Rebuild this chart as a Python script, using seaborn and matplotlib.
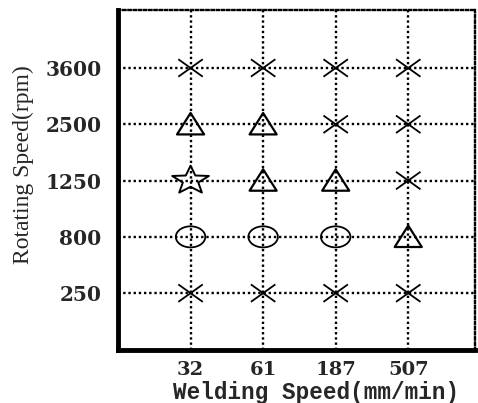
import numpy as np
import pandas as pd
import matplotlib
matplotlib.use("Agg")
import matplotlib.pyplot as plt
from matplotlib.path import Path
import seaborn as sns

# ---- data ----
welding_speeds = ["32", "61", "187", "507"]          # mm/min (x categories)
rotating_speeds = ["250", "800", "1250", "2500", "3600"]  # rpm (y categories)
# outcome code per (rotating speed row, welding speed column)
outcome_250 = ["cross", "cross", "cross", "cross"]
outcome_800 = ["circle", "circle", "circle", "triangle"]
outcome_1250 = ["star", "triangle", "triangle", "cross"]
outcome_2500 = ["triangle", "triangle", "cross", "cross"]
outcome_3600 = ["cross", "cross", "cross", "cross"]
outcomes = [outcome_250, outcome_800, outcome_1250, outcome_2500, outcome_3600]

rows = []
for ri, rs in enumerate(rotating_speeds):
    for wi, ws in enumerate(welding_speeds):
        rows.append({"ws": wi, "rs": ri, "outcome": outcomes[ri][wi]})
df = pd.DataFrame(rows)

# ---- marker shapes ----
t = np.linspace(0, 2 * np.pi, 60)
ellipse = Path(np.column_stack([1.4 * np.cos(t), np.sin(t)]), closed=True)
cross = Path([(-1.4, -1), (1.4, 1), (-1.4, 1), (1.4, -1)],
             [Path.MOVETO, Path.LINETO, Path.MOVETO, Path.LINETO])
tri = Path([(-1.2, -0.9), (1.2, -0.9), (0, 1.0), (-1.2, -0.9)], closed=True)
ang = np.pi / 2 + np.arange(10) * np.pi / 5
rad = np.where(np.arange(10) % 2 == 0, 1.0, 0.42)
star_v = np.column_stack([1.3 * rad * np.cos(ang), rad * np.sin(ang)])
star = Path(np.vstack([star_v, star_v[:1]]), closed=True)

styles = {
    "cross": dict(marker=cross, s=310, facecolor="none", edgecolor="black", linewidth=1.3),
    "circle": dict(marker=ellipse, s=450, facecolor="none", edgecolor="black", linewidth=1.3),
    "triangle": dict(marker=tri, s=380, facecolor="none", edgecolor="black", linewidth=1.6),
    "star": dict(marker=star, s=700, facecolor="none", edgecolor="black", linewidth=1.4),
}

sns.set_style("white")
fig = plt.figure(figsize=(4.78, 4.03), dpi=100)
ax = fig.add_axes([118 / 478, 1 - 350 / 403, (475 - 118) / 478, (350 - 10) / 403])

for key, kw in styles.items():
    sub = df[df["outcome"] == key]
    sns.scatterplot(data=sub, x="ws", y="rs", ax=ax, legend=False, zorder=3, **kw)

ax.set_xlim(-1, 3.92)
ax.set_ylim(-1.01, 5.03)
ax.set_xticks(range(len(welding_speeds)))
ax.set_xticklabels(welding_speeds)
ax.set_yticks(range(len(rotating_speeds)))
ax.set_yticklabels(rotating_speeds)

ax.grid(True, linestyle=(0, (1, 1.2)), color="black", linewidth=1.7)
ax.set_axisbelow(True)

for side in ["left", "bottom"]:
    ax.spines[side].set_visible(True)
    ax.spines[side].set_linewidth(3.5)
    ax.spines[side].set_color("black")
for side in ["top", "right"]:
    ax.spines[side].set_visible(True)
    ax.spines[side].set_linestyle((0, (1, 1.2)))
    ax.spines[side].set_linewidth(1.7)
    ax.spines[side].set_color("black")

ax.tick_params(axis="both", length=0)
ax.tick_params(axis="y", pad=12)
ax.tick_params(axis="x", pad=8)
for lab in ax.get_yticklabels():
    lab.set_fontfamily("DejaVu Serif")
    lab.set_fontweight("bold")
    lab.set_fontsize(14.5)
for lab in ax.get_xticklabels():
    lab.set_fontfamily("DejaVu Serif")
    lab.set_fontweight("bold")
    lab.set_fontsize(14)

ax.set_xlabel("Welding Speed(mm/min)", fontfamily="Liberation Mono",
              fontweight="bold", fontsize=16.3, labelpad=-2)
ax.xaxis.set_label_coords(0.555, -0.09)
ax.set_ylabel("Rotating Speed(rpm)", fontfamily="Liberation Serif", fontsize=17)
ax.yaxis.set_label_coords(-0.236, 0.545)

fig.savefig("out.png", dpi=100)
